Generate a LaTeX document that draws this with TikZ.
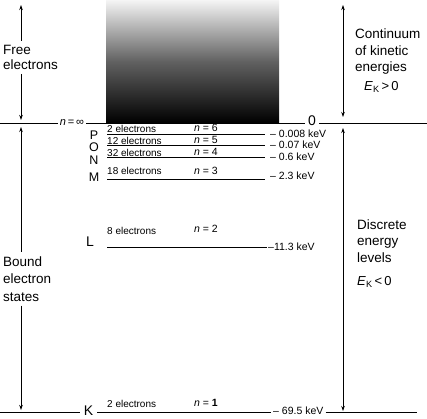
\documentclass[tikz,border=0pt]{standalone}
\usepackage{fontspec}
\setmainfont{Liberation Sans}
\usetikzlibrary{arrows.meta, positioning}

\begin{document}
\begin{tikzpicture}[
    x=1pt, y=-1pt,
    >={Stealth[length=5pt, width=3.5pt]},
    level/.style={line width=0.9pt},
    span/.style={line width=0.7pt},
    elab/.style={anchor=west, inner sep=0pt, font=\fontsize{10}{12}\selectfont},
    nlab/.style={anchor=east, inner sep=0pt, font=\fontsize{10.5}{12}\selectfont},
    kev/.style={anchor=west, inner sep=0pt, font=\fontsize{10.5}{12}\selectfont},
    shell/.style={inner sep=0pt, font=\fontsize{12.5}{14}\selectfont},
    side/.style={anchor=west, align=left, inner sep=0pt}
]
\useasboundingbox (0,0) rectangle (427,418);

% Continuo (sombreado)
\shade[top color=black!4, bottom color=black, middle color=black!62] (106,0) rectangle (279,123);

% Limite n = infinito
\node[inner sep=2pt, font=\fontsize{11}{12}\selectfont] (ninf) at (72,123) {\textit{n}\,=\,∞};
\node[inner sep=3pt, font=\fontsize{14}{16}\selectfont] (zero) at (312,121) {0};
\coordinate (zl) at (0,123);
\coordinate (zr) at (427,123);
\draw[level] (zl) -- (ninf.west);
\draw[level] (ninf.east) -- (ninf.east -| zero.west);
\draw[level] (zero.east |- zr) -- (zr);

% Capas
\node[shell] (P) at (94,135) {P};
\node[shell] (O) at (94,147) {O};
\node[shell] (N) at (94,160) {N};
\node[shell] (M) at (94,177) {M};
\node[shell, font=\fontsize{14}{16}\selectfont] (L) at (90,242) {L};
\node[shell, inner xsep=4pt, inner ysep=0pt, font=\fontsize{14}{16}\selectfont] (K) at (88.5,411) {K};

% n = 6
\coordinate (a6) at (107,134);
\coordinate (b6) at (265,134);
\draw[level] (a6) -- (b6);
\node[elab] (e6) at (107,129) {2 electrons};
\node[nlab] (n6) at (218,128) {\textit{n} = 6};
\node[kev] (k6) at (270,134) {– 0.008 keV};

% n = 5
\coordinate (a5) at (107,145);
\coordinate (b5) at (265,145);
\draw[level] (a5) -- (b5);
\node[elab] (e5) at (107,141) {12 electrons};
\node[nlab] (n5) at (218,140) {\textit{n} = 5};
\node[kev] (k5) at (270,145) {– 0.07 keV};

% n = 4
\coordinate (a4) at (107,157);
\coordinate (b4) at (265,157);
\draw[level] (a4) -- (b4);
\node[elab] (e4) at (107,153) {32 electrons};
\node[nlab] (n4) at (218,152) {\textit{n} = 4};
\node[kev] (k4) at (270,157) {– 0.6 keV};

% n = 3
\coordinate (a3) at (107,179);
\coordinate (b3) at (265,179);
\draw[level] (a3) -- (b3);
\node[elab] (e3) at (107,171) {18 electrons};
\node[nlab] (n3) at (218,171) {\textit{n} = 3};
\node[kev] (k3) at (270,176) {– 2.3 keV};

% n = 2
\coordinate (a2) at (107,247);
\coordinate (b2) at (267,247);
\draw[level] (a2) -- (b2);
\node[elab] (e2) at (107,231) {8 electrons};
\node[nlab] (n2) at (218,229) {\textit{n} = 2};
\node[kev] (k2) at (268,247) {–11.3 keV};

% n = 1 (linea base)
\coordinate (kl) at (0,412);
\coordinate (kr) at (417,412);
\node[kev] (k1) at (273,411) {– 69.5 keV};
\draw[level] (kl) -- (K.west |- kl);
\draw[level] (K.east |- kl) -- ([xshift=-2pt]k1.west |- kl);
\draw[level] ([xshift=2pt]k1.east |- kr) -- (kr);
\node[elab] (e1) at (107,404) {2 electrons};
\node[nlab] (n1) at (218,403) {\textit{n} = \textbf{1}};

% Electrones libres
\coordinate (ft) at (21,5);
\coordinate (fb) at (21,120);
\node[side, inner sep=4pt, font=\fontsize{13.5}{15}\selectfont] (free) at (-1,57.5) {Free\\electrons};
\draw[span, <-] (ft) -- (free.north -| ft);
\draw[span, ->] (free.south -| ft) -- (fb);

% Estados ligados
\coordinate (bt) at (21,127);
\coordinate (bb) at (21,410);
\node[side, inner sep=4pt, font=\fontsize{13.5}{17.5}\selectfont] (bound) at (-1,279) {Bound\\electron\\states};
\draw[span, <-] (bt) -- (bound.north -| bt);
\draw[span, ->] (bound.south -| bt) -- (bb);

% Continuo de energias cineticas
\coordinate (ct) at (343,5);
\coordinate (cb) at (343,117);
\draw[span, <->] (ct) -- (cb);
\node[side, font=\fontsize{13.5}{16.5}\selectfont] (cont) at (355,52) {Continuum\\of kinetic\\energies};
\node[side, font=\fontsize{13}{15}\selectfont] (ekpos) at (364,87) {\textit{E}\textsubscript{K}\,>\,0};

% Niveles discretos
\coordinate (dt) at (343,128);
\coordinate (db) at (343,411);
\draw[span, <->] (dt) -- (db);
\node[side, font=\fontsize{13.5}{16.5}\selectfont] (disc) at (357,241) {Discrete\\energy\\levels};
\node[side, font=\fontsize{13}{15}\selectfont] (ekneg) at (357,282) {\textit{E}\textsubscript{K}\,<\,0};

\end{tikzpicture}
\end{document}
